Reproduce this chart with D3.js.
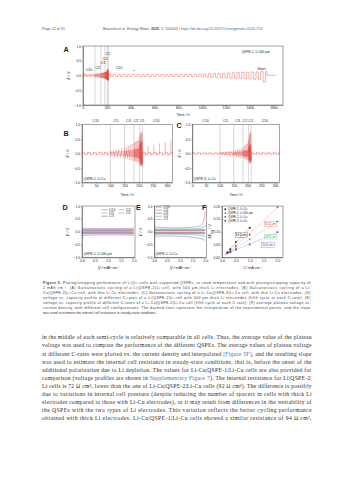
<!DOCTYPE html>
<html>
<head>
<meta charset="utf-8">
<script src="https://cdn.jsdelivr.net/npm/d3@7"></script>
<style>
  body { margin: 0; background: #fff; }
  svg text { font-family: "Liberation Sans", Arial, sans-serif; }
  svg text.serif { font-family: "Liberation Serif", "DejaVu Serif", serif; }
</style>
</head>
<body>
<svg id="page" width="353" height="480"></svg>
<script>
// ---- data ----
// half-cycle start times of the rate test (h), shared by A, B, C
const protoTime = [0,10,20,30,40,50,60,70,80,90,
  100,105,110,115,120,125,130,135,140,145,
  150,153.3,156.7,160,163.3,166.7,170,173.3,176.7,180,
  183.3,185.3,187.3,189.3,191.3,193.3,195.3,197.3,199.3,201.3,
  203.3,204.3,205.3,206.3,207.3,208.3,209.3,210.3,211.3,212.3]
const rateBreaks = [100, 150, 183.3, 203.3, 213.3]
const rateNames = ['C/10', 'C/5', 'C/3', 'C/2', 'C/1']
const rateTop = ['C/10', 'C/5', 'C/3', 'C/2', 'C/1', 'C/10']

// panel A long cycling, Li|QSPE-2|Li
const aLongTime = [213.3,233,253,273,293,313,333,353,373,393,413,433,453,473,493,513,533,553,573,593,613,633,653,673,693,713,733,753,773,793,813,833,853,873,893,
  913,933,953,973,993,1013,1033,1053,1073,1093,
  1113,1133,1153,1173,1193,1213,1233,1253,1273,1293,
  1313,1333,1353,1373,1393,1413,1433,1453,1473,1493,1513,1533,1545]
const aVolt = [0.08,-0.03,0.03,-0.03,0.03,-0.03,0.03,-0.03,0.03,-0.03,
  0.05,-0.05,0.05,-0.05,0.06,-0.06,0.06,-0.06,0.06,-0.06,
  0.08,-0.08,0.08,-0.08,0.09,-0.09,0.09,-0.09,0.09,-0.09,
  0.11,-0.11,0.12,-0.12,0.12,-0.12,0.13,-0.13,0.13,-0.13,
  0.17,-0.15,0.19,-0.16,0.2,-0.16,0.2,-0.17,0.19,-0.16,
  0.04,
  -0.03,0.03,-0.03,0.03,-0.03,0.03,-0.03,0.03,-0.03,0.03,
  -0.03,0.03,-0.03,0.03,-0.03,0.03,-0.03,0.03,-0.03,0.03,
  -0.03,0.03,-0.03,0.03,-0.03,0.035,-0.03,0.035,-0.035,0.035,
  -0.035,0.035,-0.035,0.035,
  -0.04,0.04,-0.045,0.045,-0.05,0.05,-0.055,0.06,-0.06,0.065,
  -0.07,0.075,-0.08,0.08,-0.085,0.09,-0.09,0.095,-0.1,0.1,
  -0.105,0.11,-0.11,0.115,-0.12,0.12,-0.125,0.12,-0.13,0.13,-0.22,0.13,
  0.005]
const aEnd = 1625

// panels B and C, Li-Cu cells
const bcLongTime = [213.3,223.3,233.3,243.3,253.3,263.3,273.3,283.3,293.3,303.3,313.3]
const bPlat = [0.04,-0.03,0.03,-0.03,0.03,-0.03,0.03,-0.03,0.03,-0.03,
  0.05,-0.05,0.05,-0.06,0.06,-0.06,0.07,-0.07,0.07,-0.07,
  0.08,-0.08,0.09,-0.09,0.1,-0.1,0.1,-0.1,0.11,-0.11,
  0.13,-0.12,0.14,-0.13,0.15,-0.14,0.16,-0.15,0.17,-0.15,
  0.3,-0.28,0.35,-0.32,0.4,-0.35,0.42,-0.38,0.38,-0.35,
  0.03,-0.03,0.03,-0.03,0.03,-0.03,0.03,-0.03,0.03,-0.03,0.03]
const bSpike = [0.45,-0.05,0.05,-0.05,0.05,-0.05,0.05,-0.05,0.05,-0.05,
  0.1,-0.1,0.12,-0.12,0.15,-0.14,0.17,-0.16,0.19,-0.17,
  0.2,-0.18,0.24,-0.2,0.28,-0.22,0.3,-0.24,0.33,-0.25,
  0.36,-0.26,0.4,-0.28,0.42,-0.3,0.44,-0.3,0.45,-0.3,
  0.55,-0.4,0.65,-0.42,0.72,-0.45,0.75,-0.45,0.7,-0.42,
  0.12,-0.05,0.25,-0.06,0.3,-0.06,0.35,-0.07,0.4,-0.08,0.45]
const bEnd = 320
const cPlat = [0.03,-0.02,0.02,-0.02,0.02,-0.02,0.02,-0.02,0.02,-0.02,
  0.03,-0.03,0.03,-0.03,0.035,-0.035,0.035,-0.035,0.04,-0.04,
  0.05,-0.05,0.05,-0.05,0.06,-0.06,0.06,-0.06,0.06,-0.06,
  0.08,-0.08,0.09,-0.09,0.1,-0.1,0.1,-0.1,0.11,-0.11,
  0.2,-0.18,0.25,-0.22,0.3,-0.25,0.3,-0.26,0.28,-0.24,
  0.02,-0.02,0.02,-0.02,0.02,-0.02,0.02,-0.02,0.02,-0.02,0.02]
const cSpike = [0.1,-0.03,0.03,-0.03,0.03,-0.03,0.03,-0.03,0.03,-0.03,
  0.05,-0.05,0.06,-0.06,0.07,-0.07,0.08,-0.08,0.09,-0.09,
  0.1,-0.1,0.12,-0.12,0.14,-0.13,0.15,-0.14,0.16,-0.15,
  0.2,-0.15,0.25,-0.18,0.3,-0.2,0.32,-0.22,0.35,-0.22,
  0.45,-0.3,0.55,-0.33,0.65,-0.35,0.75,-0.35,0.7,-0.32,
  0.04,-0.03,0.05,-0.03,0.05,-0.03,0.05,-0.03,0.06,-0.03,0.05]
const cEnd = 315

// panels D and E: voltage vs capacity, one row per C-rate
const qGrid = [0, 0.1, 0.5, 1.0, 1.5, 1.8, 1.95, 2.0]
const dUp = [[0.03,0.02,0.02,0.02,0.02,0.02,0.022,0.025],
  [0.05,0.04,0.04,0.04,0.04,0.04,0.042,0.045],
  [0.07,0.06,0.06,0.06,0.06,0.062,0.065,0.07],
  [0.1,0.08,0.08,0.08,0.08,0.085,0.09,0.1],
  [0.16,0.13,0.12,0.12,0.12,0.125,0.13,0.15]]
const dLow = [[-0.03,-0.022,-0.02,-0.02,-0.02,-0.022,-0.024,-0.027],
  [-0.05,-0.042,-0.04,-0.04,-0.04,-0.042,-0.045,-0.05],
  [-0.075,-0.065,-0.062,-0.062,-0.062,-0.065,-0.07,-0.075],
  [-0.1,-0.085,-0.082,-0.082,-0.085,-0.09,-0.095,-0.105],
  [-0.17,-0.14,-0.13,-0.13,-0.13,-0.135,-0.145,-0.16]]
const eUp = [[0.04,0.03,0.03,0.03,0.03,0.03,0.032,0.035],
  [0.06,0.05,0.05,0.05,0.05,0.052,0.055,0.06],
  [0.09,0.07,0.07,0.07,0.07,0.075,0.08,0.09],
  [0.13,0.1,0.1,0.1,0.11,0.13,0.17,0.25],
  [0.22,0.17,0.15,0.15,0.17,0.22,0.45,0.8]]
const eLow = [[-0.04,-0.03,-0.03,-0.03,-0.03,-0.032,-0.034,-0.036],
  [-0.06,-0.05,-0.05,-0.05,-0.052,-0.055,-0.058,-0.06],
  [-0.09,-0.07,-0.07,-0.072,-0.075,-0.08,-0.085,-0.09],
  [-0.13,-0.1,-0.1,-0.11,-0.12,-0.14,-0.17,-0.2],
  [-0.2,-0.17,-0.17,-0.18,-0.22,-0.27,-0.32,-0.35]]
const rateColors = ['#5b5566', '#e0504a', '#5f95d6', '#3fae9e', '#a35fb0']

// panel F: average plateau voltage vs current density
const fNames = ['QSPE-1, Li-Cu', 'QSPE-2, Li 500 µm', 'QSPE-2, Li-Cu', 'QSPE-3, Li-Cu']
const fColors = ['#111111', '#3bb54a', '#e8302a', '#2d3fd8']
const fJ = [[0.2,0.3,0.5,1.0], [0.2,0.3,0.5,1.0,2.0], [0.2,0.3,0.5,1.0,2.0], [0.2,0.3,0.5,1.0,2.0]]
const fV = [[0.02,0.032,0.06,0.115], [0.016,0.022,0.035,0.07,0.14], [0.018,0.027,0.045,0.088,0.195], [0.017,0.02,0.03,0.05,0.098]]
const fRes = ['94 Ω cm²', '72 Ω cm²', '92 Ω cm²', '50 Ω cm²']

// ---- page text ----
const captionLines = [
  '§Figure 5.§ Plating/stripping performance of Li||Li cells with supported QSPEs, at room temperature and with plating/stripping capacity of',
  '2 mAh cm⁻². (A) Galvanostatic cycling of a Li|QSPE-2|Li cell, with 500 µm-thick Li electrodes; (B) Galvanostatic cycling of a Li-',
  'Cu|QSPE-2|Li-Cu cell, with thin Li-Cu electrodes; (C) Galvanostatic cycling of a Li-Cu|QSPE-3|Li-Cu cell, with thin Li-Cu electrodes; (D)',
  'voltage vs. capacity profile at different C-rates of a Li|QSPE-2|Li cell with 500 µm-thick Li electrodes (fifth cycle at each C-rate); (E)',
  'voltage vs. capacity profile at different C-rates of a Li-Cu|QSPE-2|Li-Cu cell (fifth cycle at each C-rate); (F) average plateau voltage vs.',
  'current density, with different cell configurations. The dashed lines represent the interpolation of the experimental points, and the slope',
  'was used to estimate the internal cell resistance in steady-state conditions.'
]
const bodyLines = [
  'in the middle of each semi-cycle is relatively comparable in all cells. Thus, the average value of the plateau',
  'voltage was used to compare the performance of the different QSPEs. The average values of plateau voltage',
  'at different C-rates were plotted vs. the current density and interpolated §[Figure 5F]§, and the resulting slope',
  'was used to estimate the internal cell resistance in steady-state conditions, that is, before the onset of the',
  'additional polarization due to Li depletion. The values for Li-Cu|QSPE-1|Li-Cu cells are also provided for',
  'comparison (voltage profiles are shown in §Supplementary Figure 7§). The internal resistance for Li|QSPE-2|',
  'Li cells is 72 Ω cm², lower than the one of Li-Cu|QSPE-2|Li-Cu cells (92 Ω cm²). The difference is possibly',
  'due to variations in internal cell pressure (despite reducing the number of spacers in cells with thick Li',
  'electrodes compared to those with Li-Cu electrodes), or it may result from differences in the wettability of',
  'the QSPEs with the two types of Li electrodes. This variation reflects the better cycling performance',
  'obtained with thick Li electrodes. Li-Cu|QSPE-1|Li-Cu cells showed a similar resistance of 94 Ω cm²,'
]

// ---- drawing ----
const svg = d3.select('#page')
const ink = '#222'
const red = '#e5453d'
let clipN = 0

function styleAxis(g) {
  g.attr('font-size', 3.4)
  g.select('.domain').attr('stroke-width', 0.4).attr('stroke', ink)
  g.selectAll('.tick line').attr('stroke-width', 0.35).attr('stroke', ink)
  g.selectAll('.tick text').attr('fill', ink)
}

function frame(x, y, xt, yt, xf, yf) {
  const [xa, xb] = x.range(), [yb, ya] = y.range()
  svg.append('g').attr('transform', `translate(0,${yb})`)
    .call(d3.axisBottom(x).tickValues(xt).tickFormat(xf).tickSize(1.1).tickSizeOuter(0).tickPadding(0.8))
    .call(styleAxis)
  svg.append('g').attr('transform', `translate(${xa},0)`)
    .call(d3.axisLeft(y).tickValues(yt).tickFormat(yf).tickSize(1.1).tickSizeOuter(0).tickPadding(0.8))
    .call(styleAxis)
  svg.append('rect').attr('x', xa).attr('y', ya).attr('width', xb - xa).attr('height', yb - ya)
    .attr('fill', 'none').attr('stroke', ink).attr('stroke-width', 0.4)
}

function plotArea(x, y) {
  const id = 'clip' + (clipN++)
  const [xa, xb] = x.range(), [yb, ya] = y.range()
  svg.append('clipPath').attr('id', id).append('rect')
    .attr('x', xa).attr('y', ya).attr('width', xb - xa).attr('height', yb - ya)
  return svg.append('g').attr('clip-path', `url(#${id})`)
}

function rich(sel, parts, size) {
  parts.forEach(p => {
    const t = sel.append('tspan').text(p.t)
    if (p.i) t.attr('font-style', 'italic')
    if (p.sub) t.attr('font-size', size * 0.7).attr('baseline-shift', 'sub')
  })
}

function yTitle(xp, yp, parts) {
  const t = svg.append('text').attr('transform', `translate(${xp},${yp}) rotate(-90)`)
    .attr('text-anchor', 'middle').attr('font-size', 3.7).attr('fill', ink)
  rich(t, parts, 3.7)
}

function xTitle(xp, yp, parts) {
  const t = svg.append('text').attr('x', xp).attr('y', yp)
    .attr('text-anchor', 'middle').attr('font-size', 3.7).attr('fill', ink)
  rich(t, parts, 3.7)
}

function label(xp, yp, txt, size, opts = {}) {
  return svg.append('text').attr('x', xp).attr('y', yp).attr('font-size', size)
    .attr('fill', opts.fill || ink).attr('text-anchor', opts.anchor || 'start')
    .attr('font-weight', opts.bold ? 700 : 400).text(txt)
}

function panelLetter(xp, yp, txt) { label(xp, yp, txt, 7.2, {bold: true}) }

const fmt1 = d3.format('.1f')
const eTitle = [{t: 'E', i: true}, {t: ' / V'}]
const timeTitle = [{t: 'Time / h'}]

// cycling trace: plateau steps plus the spike at the start of each half-cycle
function cycling(x, y, times, plat, spike, end) {
  const g = plotArea(x, y)
  const pts = times.map((t, i) => [t, plat[i]]).concat([[end, plat[plat.length - 1]]])
  g.append('path')
    .attr('d', d3.line().x(d => x(d[0])).y(d => y(d[1])).curve(d3.curveStepAfter)(pts))
    .attr('fill', 'none').attr('stroke', red).attr('stroke-width', 0.4)
  if (spike) {
    g.selectAll(null).data(times.map((t, i) => ({t, s: spike[i]}))).join('line')
      .attr('x1', d => x(d.t)).attr('x2', d => x(d.t))
      .attr('y1', y(0)).attr('y2', d => y(d.s))
      .attr('stroke', red).attr('stroke-width', 0.4)
  }
  return g
}

function breaks(g, x, y) {
  g.selectAll(null).data(rateBreaks).join('line')
    .attr('x1', d => x(d)).attr('x2', d => x(d))
    .attr('y1', y.range()[0]).attr('y2', y.range()[1])
    .attr('stroke', '#8a8a8a').attr('stroke-width', 0.35)
}

// ---------- header ----------
label(42, 30.3, 'Page 12 of 31', 3.7, {fill: '#555'})
const hd = svg.append('text').attr('x', 103).attr('y', 30.3).attr('font-size', 3.7).attr('fill', '#555')
hd.append('tspan').text('Boaretto et al. Energy Mater. ')
hd.append('tspan').attr('font-weight', 700).text('2025')
hd.append('tspan').text(', 5, 500003 | ')
hd.append('tspan').attr('fill', '#3a6fb5').text('https://dx.doi.org/10.20517/energymater.2024.253')

// ---------- panel A ----------
{
  const x = d3.scaleLinear().domain([0, 1680]).range([83, 283])
  const y = d3.scaleLinear().domain([-1, 1]).range([105, 46])
  const g = plotArea(x, y)
  breaks(g, x, y)
  cycling(x, y, protoTime.concat(aLongTime), aVolt, null, aEnd)
  frame(x, y, d3.range(0, 1601, 200), [-1, -0.5, 0, 0.5, 1], d3.format('d'), fmt1)
  yTitle(70, 75.5, eTitle)
  xTitle(183, 115.5, timeTitle)
  panelLetter(63.5, 51.5, 'A')
  const aLabT = [50, 126, 168, 185, 210, 302]
  const aLabV = [0.15, 0.21, 0.38, 0.52, 0.69, 0.22]
  rateTop.forEach((r, i) => label(x(aLabT[i]), y(aLabV[i]), r, 3.1, {anchor: 'middle'}))
  label(241.5, 52.5, 'QSPE-2, Li 500 µm', 3.3)
  label(261.5, 70, 'Short', 3.5, {anchor: 'middle'})
  label(x(430), y(0.08), '*', 3.5, {anchor: 'middle'})
}

// ---------- panels B and C ----------
const bcLabT = [48, 120, 164, 190, 212, 262]
{
  const x = d3.scaleLinear().domain([0, bEnd]).range([82, 172.7])
  const y = d3.scaleLinear().domain([-1, 1]).range([182.5, 124.5])
  const g = plotArea(x, y)
  breaks(g, x, y)
  cycling(x, y, protoTime.concat(bcLongTime), bPlat, bSpike, bEnd)
  frame(x, y, d3.range(0, 301, 50), [-1, -0.5, 0, 0.5, 1], d3.format('d'), fmt1)
  yTitle(69, 153.5, eTitle)
  xTitle(127, 195.5, timeTitle)
  panelLetter(63.5, 135.5, 'B')
  rateTop.forEach((r, i) => label(x(bcLabT[i]), 122, r, 3.1, {anchor: 'middle'}))
  label(83.5, 179.8, 'QSPE-2, Li-Cu', 3.3)
}
{
  const x = d3.scaleLinear().domain([0, cEnd]).range([192.3, 279.3])
  const y = d3.scaleLinear().domain([-1, 1]).range([182.5, 124.5])
  const g = plotArea(x, y)
  breaks(g, x, y)
  cycling(x, y, protoTime.concat(bcLongTime), cPlat, cSpike, cEnd)
  frame(x, y, d3.range(0, 301, 50), [-1, -0.5, 0, 0.5, 1], d3.format('d'), fmt1)
  yTitle(180.5, 153.5, eTitle)
  xTitle(236, 195.5, timeTitle)
  panelLetter(176.5, 128, 'C')
  rateTop.forEach((r, i) => label(x(bcLabT[i]), 122, r, 3.1, {anchor: 'middle'}))
  label(193.8, 179.8, 'QSPE-3, Li-Cu', 3.3)
}

// ---------- panels D and E ----------
const qTitle = [{t: 'Q', i: true}, {t: ' / mAh cm⁻²'}]
function profiles(x, y, up, low) {
  const g = plotArea(x, y)
  const line = d3.line().x((d, i) => x(qGrid[i])).y(d => y(d)).curve(d3.curveMonotoneX)
  rateNames.forEach((r, k) => {
    [up[k], low[k]].forEach(v => g.append('path').attr('d', line(v))
      .attr('fill', 'none').attr('stroke', rateColors[k]).attr('stroke-width', k === 2 ? 0.7 : 0.5))
  })
}
function legendRow(lx, ly, k) {
  svg.append('line').attr('x1', lx).attr('x2', lx + 6).attr('y1', ly).attr('y2', ly)
    .attr('stroke', rateColors[k]).attr('stroke-width', k === 2 ? 0.8 : 0.5)
  label(lx + 7.5, ly + 1, rateNames[k], 3)
}
{
  const x = d3.scaleLinear().domain([0, 2.05]).range([82, 135])
  const y = d3.scaleLinear().domain([-1, 1]).range([257.3, 206])
  profiles(x, y, dUp, dLow)
  frame(x, y, [0, 0.5, 1, 1.5, 2], [-1, -0.5, 0, 0.5, 1], fmt1, fmt1)
  yTitle(69, 232, eTitle)
  xTitle(108.5, 268.8, qTitle)
  panelLetter(62.5, 210, 'D')
  const pos = [[101.5, 209.8], [101.5, 213], [101.5, 216.2], [118.5, 209.8], [118.5, 213]]
  pos.forEach((p, k) => legendRow(p[0], p[1], k))
  label(83.5, 254.5, 'QSPE-2, Li 500 µm', 3.3)
}
{
  const x = d3.scaleLinear().domain([0, 2.05]).range([154.3, 206.5])
  const y = d3.scaleLinear().domain([-1, 1]).range([257.3, 206])
  profiles(x, y, eUp, eLow)
  frame(x, y, [0, 0.5, 1, 1.5, 2], [-1, -0.5, 0, 0.5, 1], fmt1, fmt1)
  yTitle(142, 232, eTitle)
  xTitle(180.5, 268.8, qTitle)
  panelLetter(136, 210, 'E')
  rateNames.forEach((r, k) => legendRow(156, 207 + k * 3.1, k))
  label(155.5, 254.5, 'QSPE-2, Li-Cu', 3.3)
}

// ---------- panel F ----------
{
  const x = d3.scaleLinear().domain([0, 2.2]).range([222, 283])
  const y = d3.scaleLinear().domain([0, 0.2]).range([257.3, 206])
  const g = plotArea(x, y)
  fJ.forEach((js, k) => {
    const vs = fV[k]
    // least-squares fit of the points; the slope is the cell resistance
    const mj = d3.mean(js), mv = d3.mean(vs)
    const slope = d3.sum(js, (j, i) => (j - mj) * (vs[i] - mv)) / d3.sum(js, j => (j - mj) ** 2)
    const icpt = mv - slope * mj
    const j0 = 0.12, j1 = d3.max(js) + 0.05
    g.append('line').attr('x1', x(j0)).attr('y1', y(icpt + slope * j0))
      .attr('x2', x(j1)).attr('y2', y(icpt + slope * j1))
      .attr('stroke', fColors[k]).attr('stroke-width', 0.35).attr('stroke-dasharray', '1.2,0.8')
    g.selectAll(null).data(js).join('rect')
      .attr('x', (d) => x(d) - 0.8).attr('y', (d, i) => y(vs[i]) - 0.8)
      .attr('width', 1.6).attr('height', 1.6).attr('fill', fColors[k])
  })
  frame(x, y, [0, 0.5, 1, 1.5, 2], [0, 0.05, 0.1, 0.15, 0.2], fmt1, d3.format('.2f'))
  const ft = svg.append('text').attr('transform', 'translate(210.5,231.5) rotate(-90)')
    .attr('text-anchor', 'middle').attr('font-size', 3.7).attr('fill', ink)
  rich(ft, [{t: 'ΔE', i: true}, {t: 'avg', sub: true}, {t: ' / V'}], 3.7)
  xTitle(252.5, 268.8, [{t: 'J', i: true}, {t: ' / mA cm⁻²'}])
  panelLetter(202, 210, 'F')
  fNames.forEach((n, k) => {
    const ly = 209.3 + k * 3.8
    svg.append('rect').attr('x', 224.5).attr('y', ly - 0.8).attr('width', 1.6).attr('height', 1.6).attr('fill', fColors[k])
    label(228, ly + 1, n, 2.9)
  })
  const labPos = [[0.5, 0.083], [1.55, 0.076], [1.55, 0.126], [1.45, 0.044]]
  fRes.forEach((r, k) => {
    const t = label(x(labPos[k][0]), y(labPos[k][1]), r, 2.8, {fill: fColors[k]})
    const bb = t.node().getBBox()
    svg.append('rect').attr('x', bb.x - 0.5).attr('y', bb.y - 0.2).attr('width', bb.width + 1).attr('height', bb.height + 0.4)
      .attr('fill', 'none').attr('stroke', fColors[k]).attr('stroke-width', 0.25)
  })
}

// ---------- caption and body ----------
function textLine(xp, yp, str, size, width, opts) {
  const t = svg.append('text').attr('x', xp).attr('y', yp).attr('font-size', size).attr('fill', opts.fill)
  if (opts.serif) t.attr('class', 'serif')
  str.split('§').forEach((s, i) => {
    const sp = t.append('tspan').text(s)
    if (i % 2 === 1) {
      if (opts.mark === 'bold') sp.attr('font-weight', 700)
      else sp.attr('fill', '#3a6fb5')
    }
  })
  if (width) t.attr('textLength', width).attr('lengthAdjust', 'spacing')
}
captionLines.forEach((s, i) => {
  const last = i === captionLines.length - 1
  textLine(43, 283.6 + i * 5.1, s, 3.45, last ? null : 267.5, {fill: '#333', mark: 'bold'})
})
bodyLines.forEach((s, i) => {
  textLine(42, 339.3 + i * 8.1, s, 5.6, 269.5, {fill: '#2a2a2a', serif: true, mark: 'link'})
})
</script>
</body>
</html>
